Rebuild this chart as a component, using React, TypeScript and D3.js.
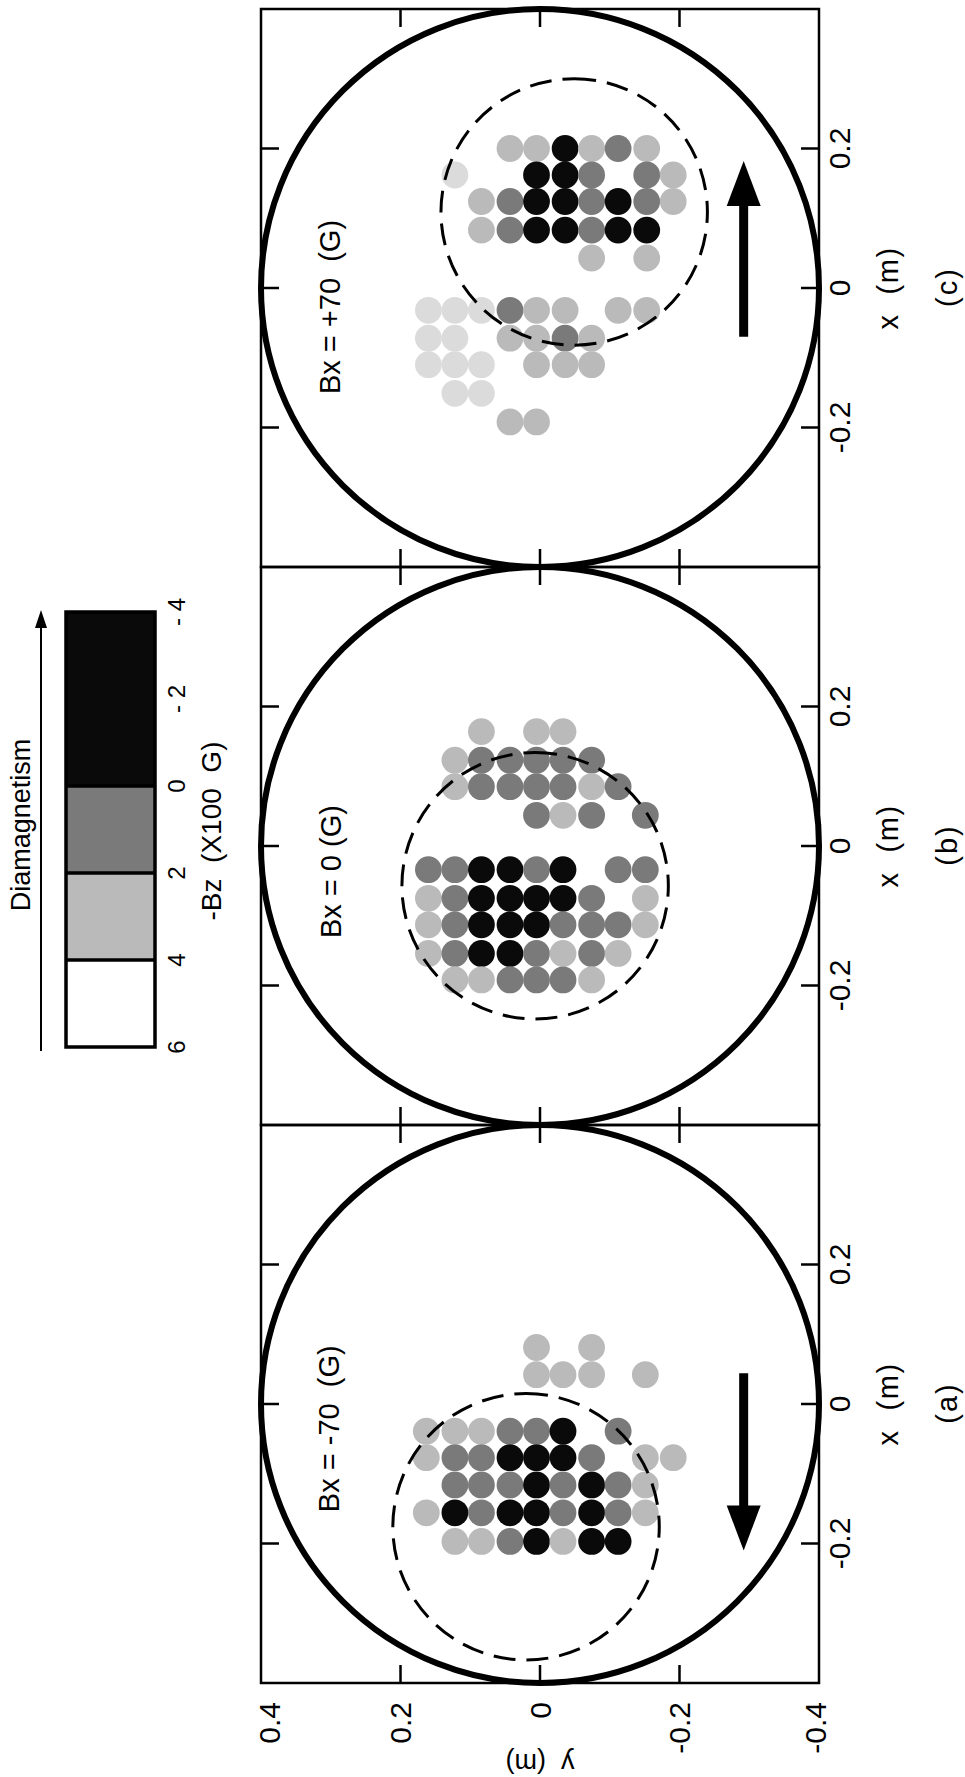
import React from 'react';
import * as d3 from 'd3';

// ---------- data ----------
type Lv = 'B' | 'M' | 'L' | 'F';
type Dot = [number, number, Lv]; // [x (m), y (m), level]

const panelTags = ['(a)', '(b)', '(c)'];
const panelTitles = ['Bx = -70  (G)', 'Bx = 0 (G)', 'Bx = +70  (G)'];
const titlePos: [number, number][] = [[-0.155, 0.288], [-0.132, 0.285], [-0.152, 0.287]];
// dashed circle: [cx, cy, r] in m
const dashedCircles: [number, number, number][] = [
  [-0.176, 0.02, 0.191],
  [-0.057, 0.007, 0.191],
  [0.109, -0.049, 0.191],
];
// arrows: [tail x, tip x, y]
const arrows: ([number, number, number] | null)[] = [
  [0.044, -0.21, -0.292],
  null,
  [-0.07, 0.182, -0.292],
];

const dotsA: Dot[] = [
  [0.081, 0.005, 'L'], [0.081, -0.074, 'L'],
  [0.042, 0.005, 'L'], [0.042, -0.033, 'L'], [0.042, -0.074, 'L'], [0.042, -0.151, 'L'],
  [-0.039, 0.163, 'L'], [-0.039, 0.122, 'L'], [-0.039, 0.084, 'L'], [-0.039, 0.043, 'M'], [-0.039, 0.005, 'M'], [-0.039, -0.033, 'B'], [-0.039, -0.112, 'M'],
  [-0.077, 0.163, 'L'], [-0.077, 0.122, 'M'], [-0.077, 0.084, 'M'], [-0.077, 0.043, 'B'], [-0.077, 0.005, 'B'], [-0.077, -0.033, 'B'], [-0.077, -0.074, 'M'], [-0.077, -0.151, 'L'], [-0.077, -0.191, 'L'],
  [-0.116, 0.122, 'M'], [-0.116, 0.084, 'M'], [-0.116, 0.043, 'M'], [-0.116, 0.005, 'B'], [-0.116, -0.033, 'M'], [-0.116, -0.074, 'B'], [-0.116, -0.112, 'M'], [-0.116, -0.151, 'L'],
  [-0.156, 0.163, 'L'], [-0.156, 0.122, 'B'], [-0.156, 0.084, 'M'], [-0.156, 0.043, 'B'], [-0.156, 0.005, 'B'], [-0.156, -0.033, 'M'], [-0.156, -0.074, 'B'], [-0.156, -0.112, 'M'], [-0.156, -0.151, 'L'],
  [-0.197, 0.122, 'L'], [-0.197, 0.084, 'L'], [-0.197, 0.043, 'M'], [-0.197, 0.005, 'B'], [-0.197, -0.033, 'L'], [-0.197, -0.074, 'B'], [-0.197, -0.112, 'B'],
];

const dotsB: Dot[] = [
  [0.164, 0.084, 'L'], [0.164, 0.005, 'L'], [0.164, -0.033, 'L'],
  [0.123, 0.122, 'L'], [0.123, 0.084, 'M'], [0.123, 0.043, 'M'], [0.123, 0.005, 'M'], [0.123, -0.033, 'M'], [0.123, -0.074, 'M'],
  [0.085, 0.122, 'L'], [0.085, 0.084, 'M'], [0.085, 0.043, 'M'], [0.085, 0.005, 'M'], [0.085, -0.033, 'M'], [0.085, -0.074, 'L'], [0.085, -0.112, 'M'],
  [0.044, 0.005, 'M'], [0.044, -0.033, 'L'], [0.044, -0.074, 'M'], [0.044, -0.151, 'M'],
  [-0.034, 0.16, 'M'], [-0.034, 0.122, 'M'], [-0.034, 0.084, 'B'], [-0.034, 0.043, 'B'], [-0.034, 0.005, 'M'], [-0.034, -0.033, 'B'], [-0.034, -0.112, 'M'], [-0.034, -0.151, 'M'],
  [-0.075, 0.16, 'L'], [-0.075, 0.122, 'M'], [-0.075, 0.084, 'B'], [-0.075, 0.043, 'B'], [-0.075, 0.005, 'B'], [-0.075, -0.033, 'B'], [-0.075, -0.074, 'M'], [-0.075, -0.151, 'L'],
  [-0.113, 0.16, 'L'], [-0.113, 0.122, 'M'], [-0.113, 0.084, 'B'], [-0.113, 0.043, 'B'], [-0.113, 0.005, 'B'], [-0.113, -0.033, 'M'], [-0.113, -0.074, 'M'], [-0.113, -0.112, 'M'], [-0.113, -0.151, 'L'],
  [-0.154, 0.16, 'L'], [-0.154, 0.122, 'M'], [-0.154, 0.084, 'B'], [-0.154, 0.043, 'B'], [-0.154, 0.005, 'M'], [-0.154, -0.033, 'L'], [-0.154, -0.074, 'M'], [-0.154, -0.112, 'L'],
  [-0.192, 0.122, 'L'], [-0.192, 0.084, 'L'], [-0.192, 0.043, 'M'], [-0.192, 0.005, 'M'], [-0.192, -0.033, 'M'], [-0.192, -0.074, 'L'],
];

const dotsC: Dot[] = [
  [0.2, 0.043, 'L'], [0.2, 0.005, 'L'], [0.2, -0.036, 'B'], [0.2, -0.074, 'L'], [0.2, -0.112, 'M'], [0.2, -0.153, 'L'],
  [0.162, 0.122, 'F'], [0.162, 0.005, 'B'], [0.162, -0.036, 'B'], [0.162, -0.074, 'M'], [0.162, -0.153, 'M'], [0.162, -0.191, 'L'],
  [0.124, 0.084, 'L'], [0.124, 0.043, 'M'], [0.124, 0.005, 'B'], [0.124, -0.036, 'B'], [0.124, -0.074, 'M'], [0.124, -0.112, 'B'], [0.124, -0.153, 'M'], [0.124, -0.191, 'L'],
  [0.083, 0.084, 'L'], [0.083, 0.043, 'M'], [0.083, 0.005, 'B'], [0.083, -0.036, 'B'], [0.083, -0.074, 'M'], [0.083, -0.112, 'B'], [0.083, -0.153, 'B'],
  [0.043, -0.074, 'L'], [0.043, -0.153, 'L'],
  [-0.032, 0.16, 'F'], [-0.032, 0.122, 'F'], [-0.032, 0.084, 'F'], [-0.032, 0.043, 'M'], [-0.032, 0.005, 'L'], [-0.032, -0.036, 'L'], [-0.032, -0.112, 'L'], [-0.032, -0.153, 'L'],
  [-0.072, 0.16, 'F'], [-0.072, 0.122, 'F'], [-0.072, 0.043, 'L'], [-0.072, 0.005, 'L'], [-0.072, -0.036, 'M'], [-0.072, -0.074, 'L'],
  [-0.11, 0.16, 'F'], [-0.11, 0.122, 'F'], [-0.11, 0.084, 'F'], [-0.11, 0.005, 'L'], [-0.11, -0.036, 'L'], [-0.11, -0.074, 'L'],
  [-0.151, 0.122, 'F'], [-0.151, 0.084, 'F'],
  [-0.192, 0.043, 'L'], [-0.192, 0.005, 'L'],
];

const panelDots: Dot[][] = [dotsA, dotsB, dotsC];

const axisTicks = [-0.2, 0, 0.2];
const yLabelTicks = [0.4, 0.2, 0, -0.2, -0.4];
const yTickText = ['0.4', '0.2', '0', '-0.2', '-0.4'];
const xTickText = ['-0.2', '0', '0.2'];

const cbBands: { from: number; to: number; lv: Lv | 'W' }[] = [
  { from: 6, to: 4, lv: 'W' },
  { from: 4, to: 2, lv: 'L' },
  { from: 2, to: 0, lv: 'M' },
  { from: 0, to: -4, lv: 'B' },
];
const cbTicks = [6, 4, 2, 0, -2, -4];
const cbTickText = ['6', '4', '2', '0', '- 2', '- 4'];

// ---------- style ----------
const FILL: Record<string, string> = { B: '#0a0a0a', M: '#7a7a7a', L: '#bababa', F: '#dbdbdb', W: '#ffffff' };
const FONT = 'Liberation Sans, Arial, Helvetica, sans-serif';

const W = 965;
const H = 1777;
const S = 558; // panel size (original orientation)
const U0 = 94; // left of panel (a)
const V0 = 261; // top of panels
const DOT_R = 0.0192;

export default function App() {
  const panels = [0, 1, 2].map((i) => {
    const x = d3.scaleLinear().domain([-0.4, 0.4]).range([U0 + i * S, U0 + (i + 1) * S]);
    const y = d3.scaleLinear().domain([-0.4, 0.4]).range([V0 + S, V0]);
    return { x, y };
  });
  const k = panels[0].x(1) - panels[0].x(0);
  const tickLen = 18;

  const cb = d3.scaleLinear().domain([6, -4]).range([730, 1165]);
  const cbTop = 66;
  const cbBot = 155;

  return (
    <svg
      width={W}
      height={H}
      style={{ position: 'absolute', left: 0, top: 0, background: '#fff' }}
      fontFamily={FONT}
    >
      <rect width={W} height={H} fill="#fff" />
      <g transform={`translate(0,${H}) rotate(-90)`}>
        {panels.map(({ x, y }, i) => {
          const arrow = arrows[i];
          const dc = dashedCircles[i];
          return (
            <g key={i}>
              {panelDots[i].map((d, j) => (
                <circle key={j} cx={x(d[0])} cy={y(d[1])} r={DOT_R * k} fill={FILL[d[2]]} />
              ))}
              <circle
                cx={x(dc[0])}
                cy={y(dc[1])}
                r={dc[2] * k}
                fill="none"
                stroke="#000"
                strokeWidth={3}
                strokeDasharray="22 11"
              />
              <circle cx={x(0)} cy={y(0)} r={x(0.4) - x(0)} fill="none" stroke="#000" strokeWidth={6} />
              <rect x={x(-0.4)} y={y(0.4)} width={S} height={S} fill="none" stroke="#000" strokeWidth={2.5} />
              {axisTicks.map((t) => (
                <g key={'t' + t} stroke="#000" strokeWidth={2.5}>
                  <line x1={x(t)} x2={x(t)} y1={y(0.4)} y2={y(0.4) + tickLen} />
                  <line x1={x(t)} x2={x(t)} y1={y(-0.4)} y2={y(-0.4) - tickLen} />
                  <line x1={x(-0.4)} x2={x(-0.4) + tickLen} y1={y(t)} y2={y(t)} />
                  <line x1={x(0.4)} x2={x(0.4) - tickLen} y1={y(t)} y2={y(t)} />
                </g>
              ))}
              {arrow && (() => {
                const dir = Math.sign(arrow[1] - arrow[0]);
                const tip = x(arrow[1]);
                const headLen = 45;
                const base = tip - dir * headLen;
                const ay = y(arrow[2]);
                return (
                  <g>
                    <line x1={x(arrow[0])} x2={base + dir * 2} y1={ay} y2={ay} stroke="#000" strokeWidth={9} />
                    <polygon points={`${tip},${ay} ${base},${ay - 17} ${base},${ay + 17}`} fill="#000" />
                  </g>
                );
              })()}
              <text
                x={x(titlePos[i][0])}
                y={y(titlePos[i][1])}
                fontSize={29}
                style={{ whiteSpace: 'pre' }}
              >
                {panelTitles[i]}
              </text>
              {axisTicks.map((t, j) => (
                <text key={'xl' + t} x={x(t)} y={850} fontSize={30} textAnchor="middle">
                  {xTickText[j]}
                </text>
              ))}
              <text
                x={x(0)}
                y={898}
                fontSize={29}
                textAnchor="middle"
                letterSpacing={1.5}
                style={{ whiteSpace: 'pre' }}
              >
                {'x  (m)'}
              </text>
              <text x={x(0) + 1} y={957} fontSize={29} textAnchor="middle" letterSpacing={2}>
                {panelTags[i]}
              </text>
            </g>
          );
        })}

        {yLabelTicks.map((t, j) => {
          const v = Math.min(Math.max(panels[0].y(t), V0 + 8), V0 + S - 4);
          return (
            <text key={'yl' + t} x={75} y={v} dy="0.36em" fontSize={30} textAnchor="end">
              {yTickText[j]}
            </text>
          );
        })}
        <text
          transform={`translate(23,${panels[0].y(0)}) rotate(-90)`}
          fontSize={27}
          textAnchor="middle"
          style={{ whiteSpace: 'pre' }}
        >
          {'y  (m)'}
        </text>

        {/* colour bar */}
        <g>
          {cbBands.map((b) => (
            <rect
              key={b.from}
              x={cb(b.from)}
              y={cbTop}
              width={cb(b.to) - cb(b.from)}
              height={cbBot - cbTop}
              fill={FILL[b.lv]}
            />
          ))}
          {cbBands.slice(1).map((b) => (
            <line key={'s' + b.from} x1={cb(b.from)} x2={cb(b.from)} y1={cbTop} y2={cbBot} stroke="#000" strokeWidth={3.5} />
          ))}
          <rect
            x={cb(6)}
            y={cbTop}
            width={cb(-4) - cb(6)}
            height={cbBot - cbTop}
            fill="none"
            stroke="#000"
            strokeWidth={3.5}
          />
          {cbTicks.map((t, j) => (
            <text key={'cb' + t} x={cb(t)} y={185} fontSize={24} textAnchor="middle" style={{ whiteSpace: 'pre' }}>
              {cbTickText[j]}
            </text>
          ))}
          <text x={946} y={221} fontSize={28} textAnchor="middle" style={{ whiteSpace: 'pre' }}>
            {'-Bz  (X100  G)'}
          </text>
          <text x={952} y={30} fontSize={27} textAnchor="middle">
            Diamagnetism
          </text>
          <line x1={726} x2={1152} y1={41} y2={41} stroke="#000" strokeWidth={2} />
          <polygon points={`1167,41 1149,35 1149,47`} fill="#000" />
        </g>
      </g>
    </svg>
  );
}
